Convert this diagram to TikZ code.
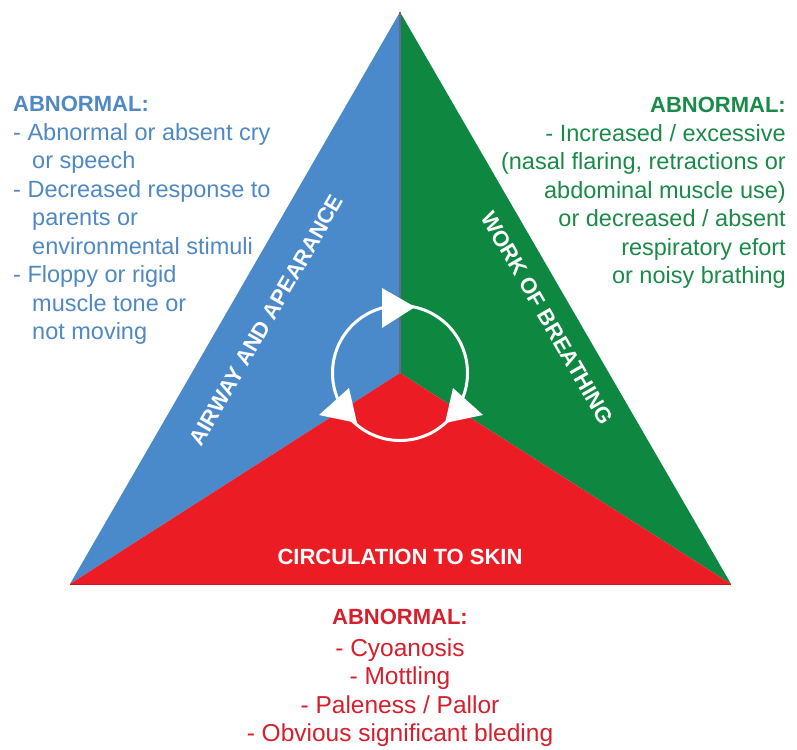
\documentclass[tikz,border=0pt]{standalone}
\usepackage{fontspec}
\setmainfont{Liberation Sans}
\definecolor{airblue}{HTML}{4A89CA}
\definecolor{breathgreen}{HTML}{0E8741}
\definecolor{circred}{HTML}{EC1C24}
\definecolor{airtext}{HTML}{4F88C3}
\definecolor{breathtext}{HTML}{1A8A48}
\definecolor{circtext}{HTML}{D61F2C}
\tikzset{
  sidelabel/.style={text=white, font=\bfseries\fontsize{22}{26}\selectfont, inner sep=0pt},
  abnormal/.style={inner sep=0pt, font=\fontsize{23.5}{28.5}\selectfont},
  arrowhead/.style={fill=white, draw=none}
}
\newcommand{\abhead}{{\bfseries\fontsize{22}{28.5}\selectfont ABNORMAL:}}
\newcommand{\contline}{\hspace*{19pt}}
\begin{document}
\begin{tikzpicture}[x=1pt,y=-1pt]
\useasboundingbox (0,0) rectangle (797,749);
% corners of the triangle
\coordinate (apex) at (400,12);
\coordinate (bl) at (70,584);
\coordinate (br) at (731,584);
\coordinate (mid) at (400,373);
% three sectors
\fill[airblue] (apex) -- (bl) -- (mid) -- cycle;
\fill[breathgreen] (apex) -- (br) -- (mid) -- cycle;
\fill[circred] (bl) -- (br) -- (mid) -- cycle;
\draw[line width=1.2pt, color=gray!80!blue] (apex) -- (mid);
\draw[line width=0.6pt, color=circred!85!black] (bl) -- (br);
% cycle with arrowheads
\draw[white, line width=3pt] (mid) circle[radius=67.5];
\fill[arrowhead] (382,288) -- (415,307) -- (382,328) -- cycle;
\fill[arrowhead] (453,388) -- (483,415) -- (445,423) -- cycle;
\fill[arrowhead] (349,388) -- (319,415) -- (357,423) -- cycle;
% labels on the sectors
\node[sidelabel, rotate=60] (airway) at (266.5,320) {AIRWAY AND APEARANCE};
\node[sidelabel, rotate=-60] (breathing) at (547.5,318) {WORK OF BREATHING};
\node[sidelabel] (circulation) at (400,557) {CIRCULATION TO SKIN};
% abnormal findings
\node[abnormal, text=airtext, align=left, anchor=north west] (airwaytext) at (13,96) {\abhead\\
- Abnormal or absent cry\\
\contline or speech\\
- Decreased response to\\
\contline parents or\\
\contline environmental stimuli\\
- Floppy or rigid\\
\contline muscle tone or\\
\contline not moving};
\node[abnormal, text=breathtext, align=right, anchor=north east] (breathingtext) at (786,97) {\abhead\\
- Increased / excessive\\
(nasal flaring, retractions or\\
abdominal muscle use)\\
or decreased / absent\\
respiratory efort\\
or noisy brathing};
\node[abnormal, text=circtext, align=center, anchor=north, font=\fontsize{24.5}{28.5}\selectfont] (circulationtext) at (400,609) {\abhead\\[3pt]
- Cyoanosis\\
- Mottling\\
- Paleness / Pallor\\
- Obvious significant bleding};
\end{tikzpicture}
\end{document}
